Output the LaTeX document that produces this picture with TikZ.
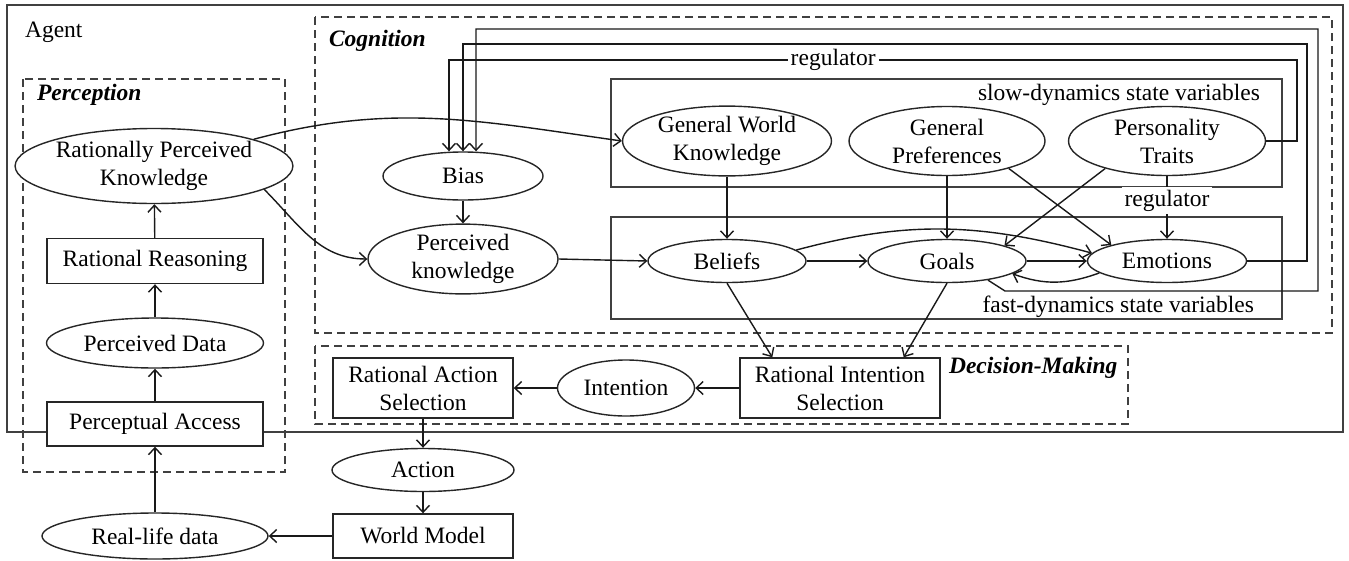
\documentclass[tikz,border=0pt]{standalone}
\usepackage{fontspec}
\setmainfont{Liberation Serif}
\usetikzlibrary{shapes.geometric,arrows.meta}
\begin{document}
\begin{tikzpicture}[x=1pt,y=1pt,line width=1.4pt,
  font=\fontsize{23.5}{28}\selectfont,
  ell/.style={draw=black!85, ellipse, fill=white, inner sep=0pt, align=center},
  box/.style={draw=black!85, rectangle, fill=white, inner sep=0pt, align=center},
  arr/.style={draw=black!90, -{Straight Barb[length=7pt,width=13pt]}},
  frame/.style={draw=black!75},
  dbox/.style={draw=black!75, dash pattern=on 8pt off 5pt},
  lbl/.style={fill=white, inner sep=3pt},
  title/.style={font=\fontsize{23.5}{28}\selectfont\bfseries\itshape, anchor=base west}]
\useasboundingbox (0,0) rectangle (1349,-560);

% containers
\draw[frame] (7,-5) rectangle (1343,-432);
\node[anchor=base west] (agentlbl) at (21,-37) {Agent};
\draw[dbox] (23,-79) rectangle (285,-472);
\node[title] (perclbl) at (33,-100) {Perception};
\draw[dbox] (315,-17) rectangle (1332,-333);
\node[title] (coglbl) at (325,-46) {Cognition};
\draw[dbox] (315,-346) rectangle (1128,-424);
\node[title] (declbl) at (945,-373) {Decision-Making};
\draw[frame] (611,-79) rectangle (1282,-187);
\node[anchor=base east] (slowlbl) at (1264,-100) {slow-dynamics state variables};
\draw[frame] (611,-217) rectangle (1282,-319);
\node[anchor=base east] (fastlbl) at (1258,-312) {fast-dynamics state variables};

% perception
\node[ell, minimum width=228pt, minimum height=75pt] (rpk) at (154,-166) {Rationally Perceived\\Knowledge};
\node[box, minimum width=216pt, minimum height=45pt] (rr) at (155,-261) {Rational Reasoning};
\node[ell, minimum width=217pt, minimum height=50pt] (pd) at (155,-343) {Perceived Data};
\node[box, minimum width=216pt, minimum height=44pt] (pa) at (155,-424) {Perceptual Access};
\node[ell, minimum width=226pt, minimum height=46pt] (rld) at (155,-536) {Real-life data};

% outside / decision
\node[box, minimum width=180pt, minimum height=44pt] (wm) at (423,-536) {World Model};
\node[ell, minimum width=182pt, minimum height=43pt] (act) at (423,-470) {Action};
\node[box, minimum width=180pt, minimum height=60pt] (ras) at (423,-388) {Rational Action\\Selection};
\node[ell, minimum width=137pt, minimum height=56pt] (int) at (626,-388) {Intention};
\node[box, minimum width=200pt, minimum height=60pt] (ris) at (840,-388) {Rational Intention\\Selection};

% cognition
\node[ell, minimum width=160pt, minimum height=48pt] (bias) at (463,-176) {Bias};
\node[ell, minimum width=190pt, minimum height=68pt] (pk) at (463,-259) {Perceived\\knowledge};
\node[ell, minimum width=209pt, minimum height=69pt] (gwk) at (727,-141) {General World\\Knowledge};
\node[ell, minimum width=196pt, minimum height=69pt] (gp) at (947,-141) {General\\Preferences};
\node[ell, minimum width=197pt, minimum height=69pt] (pt) at (1167,-141) {Personality\\Traits};
\node[ell, minimum width=158pt, minimum height=43pt] (bel) at (727,-261) {Beliefs};
\node[ell, minimum width=158pt, minimum height=43pt] (goals) at (947,-261) {Goals};
\node[ell, minimum width=159pt, minimum height=43pt] (emo) at (1167,-261) {Emotions};

% perception arrows
\draw[arr] (rld) -- (pa);
\draw[arr] (pa) -- (pd);
\draw[arr] (pd) -- (rr);
\draw[arr] (rr) -- (rpk);
\draw[arr] (wm) -- (rld);
\draw[arr] (ras) -- (act);
\draw[arr] (act) -- (wm);
\draw[arr] (ris) -- (int);
\draw[arr] (int) -- (ras);

% cognition arrows
\draw[arr] (rpk.15) to[out=15,in=172] (gwk.west);
\draw[arr] (rpk.-12) to[out=-45,in=180] (pk.west);
\draw[arr] (bias) -- (pk);
\draw[arr] (pk.east) -- (bel.west);
\draw[arr] (gwk) -- (bel);
\draw[arr] (gp) -- (goals);
\draw[arr] (gp.-24) -- (emo.164);
\draw[arr] (pt.204) -- (goals.15);
\draw[arr] (bel) -- (goals);
\draw[arr] (goals) -- (emo);
\draw[arr] (bel.9) to[out=15,in=165] (emo.174);
\draw[arr] (emo.190) to[out=200,in=-20] (goals.-11);
\draw[arr] (pt) -- node[lbl, pos=0.39] (reglow) {regulator} (emo);
\draw[arr] (bel.south) -- ([xshift=33pt]ris.north west);
\draw[arr] (goals.south) -- ([xshift=-37pt]ris.north east);

% regulator feedback
\draw[arr] (pt.east) -| (1297,-60) -- node[lbl, pos=0.547] (regtop) {regulator} (449,-60) -- ([xshift=-14pt]bias.north);
\draw[arr] (emo.east) -| (1307,-44) -| (bias.north);
\draw[arr] (goals.-25) -- (1005,-291) -| (1318,-29) -| ([xshift=13pt]bias.north);
\end{tikzpicture}
\end{document}
